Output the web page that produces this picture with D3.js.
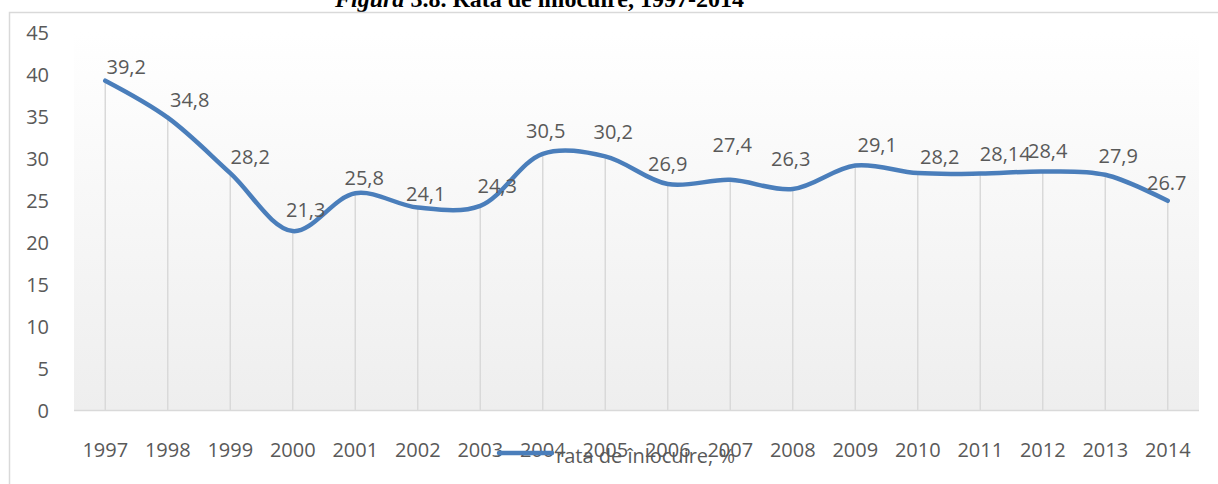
<!DOCTYPE html>
<html><head><meta charset="utf-8">
<script src="https://cdn.jsdelivr.net/npm/d3@7"></script>
<style>
html,body{margin:0;padding:0;background:#fff;}
svg{display:block;}
</style></head>
<body>
<svg id="chart" width="1218" height="484"></svg>
<script>
const years = ["1997","1998","1999","2000","2001","2002","2003","2004","2005","2006","2007","2008","2009","2010","2011","2012","2013","2014"];
const values = [39.2, 34.8, 28.2, 21.3, 25.8, 24.1, 24.3, 30.5, 30.2, 26.9, 27.4, 26.3, 29.1, 28.2, 28.14, 28.4, 28.0, 24.9];
const valueLabels = ["39,2","34,8","28,2","21,3","25,8","24,1","24,3","30,5","30,2","26,9","27,4","26,3","29,1","28,2","28,14","28,4","27,9","26.7"];
const yTicks = [0,5,10,15,20,25,30,35,40,45];
const seriesName = "rata de înlocuire, %";
const titleItalic = "Figura";
const titleRest = " 3.8. Rata de înlocuire, 1997-2014";

// layout (label nudges relative to their point)
const labelNudge = [[21,-14],[22,-18],[20,-17],[13,-22],[9,-16],[8,-14],[17,-20],[3,-23],[8,-25],[0,-21],[2,-35],[-2,-31],[22,-21],[22,-17],[25,-20],[5,-21],[13,-19],[-1,-18]];

const svg = d3.select("#chart");
const font = "'Open Sans', sans-serif";
const txt = "#595959";
const plot = {l:74, r:1199, t:32, b:410};

const x = d3.scaleBand().domain(years).range([plot.l, plot.r]).paddingInner(0).paddingOuter(0);
const cx = d => x(d) + x.bandwidth()/2;
const y = d3.scaleLinear().domain([0,45]).range([plot.b, plot.t]);

const defs = svg.append("defs");
const grad = defs.append("linearGradient").attr("id","pg").attr("x1",0).attr("y1",0).attr("x2",0).attr("y2",1);
grad.append("stop").attr("offset","0%").attr("stop-color","#ffffff");
grad.append("stop").attr("offset","100%").attr("stop-color","#eeeeee");

// title (clipped at top)
const t = svg.append("text").attr("x",335).attr("y",7)
  .attr("font-family","'Liberation Serif', 'Times New Roman', serif").attr("font-weight","bold")
  .attr("font-size",24).attr("fill","#000");
t.append("tspan").attr("font-style","italic").text(titleItalic);
t.append("tspan").text(titleRest);

// frame
svg.append("rect").attr("x",9.5).attr("y",12.5).attr("width",1400).attr("height",600)
  .attr("fill","none").attr("stroke","#d9d9d9").attr("stroke-width",1.5);

// plot area
svg.append("rect").attr("x",plot.l).attr("y",plot.t).attr("width",plot.r-plot.l).attr("height",plot.b-plot.t)
  .attr("fill","url(#pg)");

// drop lines
svg.append("g").selectAll("line").data(years).join("line")
  .attr("x1",d=>cx(d)).attr("x2",d=>cx(d))
  .attr("y1",(d,i)=>y(values[i])).attr("y2",plot.b)
  .attr("stroke","#d9d9d9").attr("stroke-width",1.5);

// baseline
svg.append("line").attr("x1",plot.l).attr("x2",plot.r).attr("y1",plot.b+0.5).attr("y2",plot.b+0.5)
  .attr("stroke","#d9d9d9").attr("stroke-width",1.5);

// y axis
const yAxis = d3.axisLeft(y).tickValues(yTicks).tickSize(0).tickPadding(0).tickFormat(d3.format("d"));
const gy = svg.append("g").attr("transform","translate(49,0)").call(yAxis);
gy.select(".domain").remove();
gy.selectAll("text").attr("font-family",font).attr("font-size",20).attr("fill",txt).attr("dy","0.35em");

// x axis
const xAxis = d3.axisBottom(x).tickSize(0).tickPadding(0);
const gx = svg.append("g").attr("transform","translate(0,"+(plot.b)+")").call(xAxis);
gx.select(".domain").remove();
gx.selectAll("text").attr("font-family",font).attr("font-size",20).attr("fill",txt).attr("dy",null).attr("y",47);

// line
const line = d3.line().x((d,i)=>cx(years[i])).y(d=>y(d)).curve(d3.curveCatmullRom.alpha(0.5));
svg.append("path").datum(values).attr("d",line).attr("fill","none")
  .attr("stroke","#4a7ebb").attr("stroke-width",4.5).attr("stroke-linecap","round").attr("stroke-linejoin","round");

// data labels
svg.append("g").selectAll("text").data(valueLabels).join("text")
  .attr("x",(d,i)=>cx(years[i])+labelNudge[i][0])
  .attr("y",(d,i)=>y(values[i])+labelNudge[i][1])
  .attr("text-anchor","middle").attr("dominant-baseline","central")
  .attr("font-family",font).attr("font-size",20).attr("fill",txt).text(d=>d);

// legend
svg.append("line").attr("x1",499).attr("x2",552).attr("y1",453).attr("y2",453)
  .attr("stroke","#4a7ebb").attr("stroke-width",4.5).attr("stroke-linecap","round");
svg.append("text").attr("x",556).attr("y",455).attr("dominant-baseline","central")
  .attr("font-family",font).attr("font-size",20).attr("fill",txt).text(seriesName);
</script>
</body></html>
